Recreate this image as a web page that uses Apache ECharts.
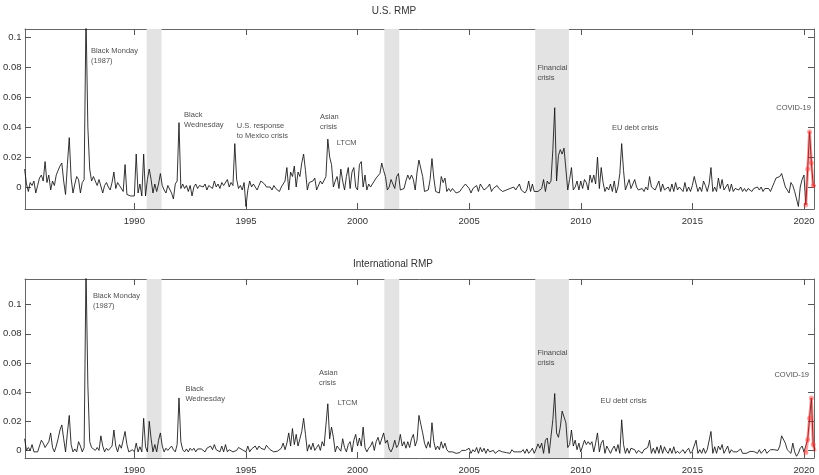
<!DOCTYPE html>
<html><head><meta charset="utf-8">
<script src="https://cdn.jsdelivr.net/npm/echarts@6/dist/echarts.min.js"></script>
<style>html,body{margin:0;padding:0;background:#fff}#c{width:819px;height:475px}</style>
</head><body><div id="c"></div>
<script>
const FONT = '"Liberation Sans", Arial, Helvetica, sans-serif';
const startYear = 1985; // first value = Jan 1985, monthly
const usRMP = [
 0.012,0.002,-0.003,0.003,0.001,0.004,-0.004,0.001,0.006,0.008,0.004,0.017,
 0.003,0.008,-0.002,0.004,0.001,0.008,0.011,0.014,0.016,0.004,-0.005,0.015,
 0.033,0.006,-0.004,0.002,0.007,0.005,-0.004,0.003,0.005,0.115,0.040,0.012,
 0.004,0.007,0.006,0.001,0.005,0.006,-0.004,0.001,0.003,0.000,-0.002,0.003,
 0.010,-0.001,0.003,0.001,0.002,-0.003,0.015,-0.005,-0.004,-0.006,-0.007,-0.006,
 0.022,-0.004,0.002,-0.006,0.022,-0.006,0.005,0.012,0.005,-0.004,0.002,-0.003,
 0.002,0.009,0.001,-0.002,-0.004,0.001,0.000,-0.004,-0.008,0.002,0.004,0.043,
 -0.001,0.002,-0.001,0.001,-0.003,0.001,-0.006,0.000,0.002,-0.001,0.001,0.000,
 0.000,0.002,-0.002,0.001,0.002,-0.001,0.004,0.000,0.002,-0.001,0.003,0.001,
 0.001,0.005,0.000,0.003,0.001,0.029,0.005,-0.001,0.001,-0.002,0.003,-0.013,
 -0.002,0.004,0.000,0.002,0.001,-0.002,0.001,0.004,0.003,0.002,0.000,-0.001,
 0.000,-0.002,0.001,-0.001,0.000,-0.003,0.000,-0.001,0.004,0.013,-0.002,0.010,
 0.007,0.014,0.000,0.010,0.007,0.016,0.022,0.011,-0.002,0.003,0.002,0.004,
 0.006,-0.002,-0.002,0.004,0.002,0.003,0.007,0.032,0.020,0.015,0.000,0.004,
 0.007,-0.001,0.012,0.004,-0.002,0.007,0.013,-0.001,0.010,0.013,0.000,-0.002,
 0.015,0.017,0.000,0.008,-0.002,0.002,0.000,0.002,0.003,0.006,0.007,0.009,
 0.016,0.011,0.007,-0.002,0.000,0.005,0.004,-0.001,0.007,0.009,-0.002,-0.001,
 -0.001,0.004,0.008,0.005,0.008,0.005,-0.002,0.010,0.018,0.018,0.007,-0.003,
 -0.003,-0.002,0.005,0.019,0.006,-0.003,-0.004,-0.004,0.007,0.003,0.006,-0.003,
 -0.001,-0.003,-0.001,-0.002,-0.004,-0.003,-0.003,-0.001,-0.002,0.002,0.001,-0.001,
 -0.004,-0.001,0.000,0.001,-0.003,0.002,0.000,-0.002,-0.001,0.000,0.002,-0.003,
 -0.001,-0.001,0.001,-0.001,-0.002,-0.003,-0.002,-0.002,-0.001,-0.001,0.000,0.000,
 -0.002,-0.001,0.002,-0.002,-0.001,-0.004,-0.002,0.004,-0.003,0.002,-0.003,-0.004,
 -0.003,-0.002,-0.001,0.005,-0.003,0.004,0.002,0.004,0.025,0.053,0.004,0.021,
 0.025,0.022,0.026,0.012,-0.002,0.005,0.013,-0.002,0.000,0.004,-0.002,0.004,
 -0.001,0.005,0.003,-0.002,0.008,0.003,0.008,0.002,0.020,-0.001,0.013,0.003,
 -0.003,0.000,-0.002,0.002,-0.003,0.004,-0.004,0.000,0.009,0.029,0.011,-0.002,
 -0.001,0.005,-0.001,-0.002,0.005,0.000,-0.002,-0.003,-0.001,-0.003,0.000,-0.002,
 0.007,0.000,-0.001,-0.002,-0.003,0.004,-0.003,0.002,-0.002,-0.001,0.000,-0.003,
 0.002,-0.003,0.003,-0.002,0.000,0.000,-0.003,0.003,-0.003,0.000,-0.003,0.001,
 0.007,0.006,-0.003,0.000,-0.003,0.004,0.001,-0.003,0.002,0.013,-0.003,0.000,
 -0.003,0.006,-0.001,0.005,-0.002,0.000,0.002,-0.003,0.002,-0.003,-0.001,-0.001,
 -0.002,0.000,-0.003,-0.001,-0.003,-0.001,-0.002,-0.003,-0.001,-0.002,0.000,-0.002,
 0.000,-0.003,-0.001,-0.002,-0.001,-0.003,-0.002,0.003,0.006,0.005,0.007,0.009,
 0.009,0.000,-0.002,-0.004,0.003,0.001,-0.003,-0.008,-0.013,0.000,0.005,0.008,
 -0.012,0.012,0.037,0.016,0.001,0.000
];
const intlRMP = [
 0.008,0.000,0.002,0.000,0.004,-0.001,0.000,-0.001,0.003,0.007,0.005,0.002,
 0.003,0.006,0.012,0.002,-0.001,0.003,0.008,0.014,0.0175,0.008,-0.001,0.012,
 0.024,0.004,-0.001,0.001,-0.001,0.006,0.003,-0.001,0.002,0.125,0.045,0.006,
 0.002,0.003,0.000,0.002,0.000,0.010,0.003,-0.001,0.0015,0.000,0.001,0.003,
 0.014,0.003,-0.001,0.004,0.0015,0.0005,0.013,0.004,-0.001,0.000,0.0005,-0.001,
 0.005,-0.001,0.0025,-0.001,0.022,0.0025,-0.001,0.020,0.008,-0.001,0.004,-0.001,
 0.007,0.012,0.003,-0.001,0.0015,0.000,-0.001,0.003,0.0005,-0.001,0.004,0.036,
 0.006,0.0005,-0.001,0.001,-0.001,0.0015,0.000,0.0015,-0.001,0.001,0.000,0.001,
 0.001,-0.001,0.0015,0.0005,0.003,0.0005,0.004,0.0005,0.0015,-0.001,0.003,-0.001,
 0.004,-0.001,0.0005,0.0015,-0.001,-0.0005,0.000,0.002,0.003,0.0005,-0.0005,-0.001,
 0.003,-0.001,0.001,0.002,0.003,0.0005,0.003,0.0015,0.0015,0.0005,0.0035,0.002,
 0.0005,0.0005,-0.001,0.000,-0.0005,-0.001,0.0015,0.005,0.0005,0.005,0.012,0.003,
 0.015,0.004,0.011,0.003,0.008,0.013,0.022,0.011,-0.0005,0.004,0.0005,0.005,
 0.000,0.002,0.004,0.000,0.006,0.003,0.004,0.032,0.008,0.016,0.009,-0.001,
 0.003,0.004,-0.0005,0.008,0.002,-0.001,0.004,0.006,-0.001,0.007,0.011,0.003,
 0.0085,0.003,0.016,0.002,-0.001,0.0015,0.003,0.006,0.000,0.006,0.009,0.004,
 0.0035,0.012,0.005,0.007,0.001,-0.001,0.002,0.007,0.002,0.004,0.011,0.003,
 0.006,0.0015,0.006,0.002,0.008,0.011,0.003,0.007,0.024,0.018,0.012,0.005,
 0.0015,0.006,0.002,0.019,0.006,0.0005,0.003,0.0005,0.006,0.0015,0.005,0.0005,
 -0.001,-0.002,-0.001,0.000,-0.002,-0.001,-0.0015,0.000,-0.001,0.000,0.0005,0.0015,
 -0.002,0.0005,-0.001,0.002,-0.002,0.002,-0.001,0.0015,-0.002,0.001,-0.001,0.000,
 0.000,-0.002,-0.001,0.000,-0.001,-0.001,-0.002,-0.0015,-0.001,-0.002,0.0005,-0.001,
 -0.0005,-0.001,-0.002,-0.001,0.0005,-0.002,0.001,-0.002,-0.0005,0.0015,-0.002,0.001,
 0.0045,0.0015,0.005,-0.002,0.007,0.0085,-0.002,0.0095,0.021,0.039,0.012,0.009,
 0.016,0.027,0.023,0.019,0.002,0.004,0.014,0.003,0.007,0.0005,0.005,-0.001,
 0.003,0.007,0.004,0.006,0.004,0.006,-0.001,0.005,0.012,-0.001,0.005,0.007,
 -0.002,0.003,0.0005,-0.002,0.001,0.003,-0.0007,0.004,-0.002,0.021,0.004,-0.002,
 0.0015,-0.002,0.0015,0.0015,0.0005,-0.002,0.000,-0.001,-0.002,0.0005,-0.0007,0.002,
 0.007,-0.002,0.0015,-0.002,0.0025,-0.002,0.0035,-0.002,0.0025,-0.0005,-0.002,0.0015,
 -0.002,0.0025,-0.002,-0.0005,-0.002,-0.002,0.0005,-0.002,0.000,0.0015,-0.002,-0.0005,
 0.0005,0.007,-0.002,0.0005,-0.002,0.0015,-0.002,0.0005,0.000,0.013,-0.002,0.0025,
 -0.002,0.003,0.0005,0.004,-0.002,0.0005,0.003,-0.002,0.0005,-0.001,-0.002,-0.001,
 -0.002,0.001,-0.002,-0.0007,-0.002,-0.0007,-0.0007,-0.002,-0.0007,0.000,-0.002,0.0005,
 -0.002,-0.002,0.001,-0.002,-0.001,0.0005,-0.0007,0.0005,0.0015,0.000,0.003,0.010,
 0.011,0.005,0.0005,-0.0005,-0.002,0.005,-0.001,-0.004,-0.002,0.0015,0.003,-0.001,
 -0.0016,0.0073,0.022,0.036,0.004,-0.0007
];
const covidFrom = 2020; // red overlay starts Jan 2020
const xTicks = [1990, 1995, 2000, 2005, 2010, 2015, 2020];
const yTicks = [0, 0.02, 0.04, 0.06, 0.08, 0.1];
const recessions = [[1990.55, 1991.22], [2001.2, 2001.87], [2007.96, 2009.47]];
const usNotes = [
 [1988.075, 0.0873, 'Black Monday\n(1987)'],
 [1992.25, 0.0442, 'Black\nWednesday'],
 [1994.61, 0.0370, 'U.S. response\nto Mexico crisis'],
 [1998.34, 0.0434, 'Asian\ncrisis'],
 [1999.09, 0.0294, 'LTCM'],
 [2008.08, 0.0761, 'Financial\ncrisis'],
 [2011.42, 0.0394, 'EU debt crisis'],
 [2018.78, 0.0523, 'COVID-19']
];
const intlNotes = [
 [1988.165, 0.1020, 'Black Monday\n(1987)'],
 [1992.31, 0.0382, 'Black\nWednesday'],
 [1998.29, 0.0491, 'Asian\ncrisis'],
 [1999.13, 0.0325, 'LTCM'],
 [2008.08, 0.0633, 'Financial\ncrisis'],
 [2010.91, 0.0336, 'EU debt crisis'],
 [2018.70, 0.0512, 'COVID-19']
];
const X_MIN = 1985.1, X_MAX = 2020.45;
const US_Y = [-0.0147, 0.1056], INTL_Y = [-0.0052, 0.1176];

const toPoints = arr => arr.map((v, i) => [startYear + (i + 1) / 12, v]);
const covidPart = pts => pts.filter(p => p[0] > covidFrom);

function xAxisPair(g) {
  const base = {
    type: 'value', gridIndex: g, min: X_MIN, max: X_MAX,
    axisLine: {show: true, onZero: false, lineStyle: {color: '#666', width: 1}},
    axisTick: {show: true, inside: true, length: 6, customValues: xTicks, lineStyle: {color: '#555'}},
    splitLine: {show: false}
  };
  return [
    Object.assign({}, base, {position: 'bottom',
      axisLabel: {show: true, customValues: xTicks, margin: 7, fontSize: 9.5, color: '#333', fontFamily: FONT, formatter: v => String(v)}}),
    Object.assign({}, base, {position: 'top', axisLabel: {show: false}})
  ];
}
function yAxisPair(g, ext) {
  const base = {
    type: 'value', gridIndex: g, min: ext[0], max: ext[1],
    axisLine: {show: true, onZero: false, lineStyle: {color: '#666', width: 1}},
    axisTick: {show: true, inside: true, length: 6, customValues: yTicks, lineStyle: {color: '#555'}},
    splitLine: {show: false}
  };
  return [
    Object.assign({}, base, {position: 'left',
      axisLabel: {show: true, customValues: yTicks, margin: 3.5, fontSize: 9.5, color: '#333', fontFamily: FONT,
        formatter: v => String(parseFloat(Number(v).toFixed(4)))}}),
    Object.assign({}, base, {position: 'right', axisLabel: {show: false}})
  ];
}
function panelSeries(xi, yi, values, notes) {
  const pts = toPoints(values);
  return [
    {type: 'line', xAxisIndex: xi, yAxisIndex: yi, data: pts, symbol: 'none', z: 3,
     lineStyle: {color: '#111', width: 0.85}, animation: false,
     markArea: {silent: true, itemStyle: {color: '#e3e3e3'},
       data: recessions.map(r => [{xAxis: r[0]}, {xAxis: r[1]}])}},
    {type: 'line', xAxisIndex: xi, yAxisIndex: yi, data: covidPart(pts), z: 4,
     symbol: 'circle', symbolSize: 5, showSymbol: true, animation: false,
     lineStyle: {color: 'rgba(255,40,40,0.45)', width: 3},
     itemStyle: {color: 'rgba(255,60,60,0.45)', borderWidth: 0}},
    {type: 'scatter', xAxisIndex: xi, yAxisIndex: yi, z: 5, silent: true, animation: false,
     symbolSize: 1, itemStyle: {color: 'rgba(0,0,0,0)'},
     data: notes.map(n => ({value: [n[0], n[1]], name: n[2]})),
     label: {show: true, position: [0, 0], align: 'left', verticalAlign: 'middle',
       formatter: p => p.name, fontSize: 7.5, lineHeight: 10, color: '#222', fontFamily: FONT}}
  ];
}

const chart = echarts.init(document.getElementById('c'), null, {renderer: 'canvas'});
chart.setOption({
  animation: false,
  backgroundColor: '#fff',
  grid: [
    {left: 24, right: 5, top: 29, height: 180},
    {left: 24, right: 5, top: 279, height: 179}
  ],
  xAxis: [...xAxisPair(0), ...xAxisPair(1)],
  yAxis: [...yAxisPair(0, US_Y), ...yAxisPair(1, INTL_Y)],
  graphic: [
    {type: 'text', x: 394, y: 11, style: {text: 'U.S. RMP', align: 'center', verticalAlign: 'middle', fontSize: 10, fontFamily: FONT, fill: '#333'}},
    {type: 'text', x: 393, y: 264, style: {text: 'International RMP', align: 'center', verticalAlign: 'middle', fontSize: 10, fontFamily: FONT, fill: '#333'}}
  ],
  series: [...panelSeries(0, 0, usRMP, usNotes), ...panelSeries(2, 2, intlRMP, intlNotes)]
});
</script></body></html>
